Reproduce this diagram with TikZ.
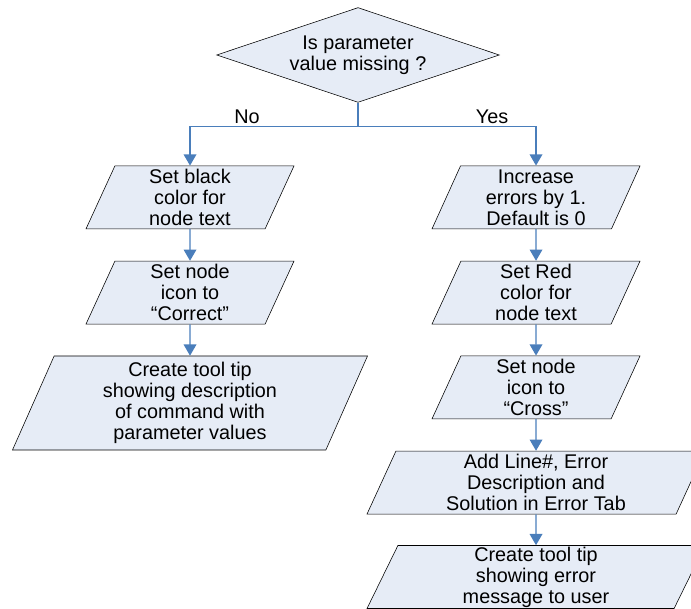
\documentclass[tikz,border=0pt]{standalone}
\usepackage{fontspec}
\setmainfont{Liberation Sans}
\usetikzlibrary{shapes.geometric}
\usetikzlibrary{arrows.meta}

\definecolor{boxfill}{RGB}{230,236,246}
\definecolor{linkblue}{RGB}{74,126,187}

\begin{document}
\begin{tikzpicture}
[every node/.style={font=\fontsize{14.1}{15}\selectfont},
  conn/.style = {-{Triangle[width=9pt,length=8pt]},color=linkblue,line width=1pt},
  dec/.style = {diamond,draw,fill=boxfill,aspect=3,inner sep=0pt,
        minimum width=7.07cm,minimum height=2.37cm,align=center},
  io/.style = {trapezium,trapezium left angle=63,trapezium right angle=117,
        trapezium stretches body,draw,fill=boxfill,align=center,inner sep=0pt,
        minimum height=1.575cm,minimum width=5.2cm},
  lbl/.style = {anchor=base}]

\useasboundingbox (0,0) rectangle (17.275,15.225);

\node[dec] (missing) at (8.95,13.85) {Is parameter\\value missing ?};

% no branch
\node[io] (black) at (4.75,10.29) {Set black\\color for\\node text};
   \node[io] (correct) at (4.75,7.91) {Set node\\icon to\\“Correct”};
   \node[io,minimum height=2.35cm,minimum width=8.875cm] (tiptrue) at (4.75,5.15)
        {Create tool tip\\showing description\\of command with\\parameter values};

% yes branch
\node[io] (errors) at (13.4,10.29) {Increase\\errors by 1.\\Default is 0};
   \node[io] (red) at (13.4,7.91) {Set Red\\color for\\node text};
   \node[io] (cross) at (13.4,5.54) {Set node\\icon to\\“Cross”};
   \node[io,minimum width=8.45cm] (errtab) at (13.4,3.16)
        {Add Line\#, Error\\Description and\\Solution in Error Tab};
   \node[io,minimum width=8.45cm] (tipfalse) at (13.4,0.8)
        {Create tool tip\\showing error\\message to user};

\node[lbl] (no) at (6.175,12.13) {No};
\node[lbl] (yes) at (12.3,12.13) {Yes};

   \draw[conn] (missing.south) -- ++(0,-0.6) -| (black);
   \draw[conn] (missing.south) -- ++(0,-0.6) -| (errors);

   \path[conn] (black) edge (correct) (correct) edge (tiptrue);
   \path[conn] (errors) edge (red) (red) edge (cross)
        (cross) edge (errtab) (errtab) edge (tipfalse);
\end{tikzpicture}
\end{document}
